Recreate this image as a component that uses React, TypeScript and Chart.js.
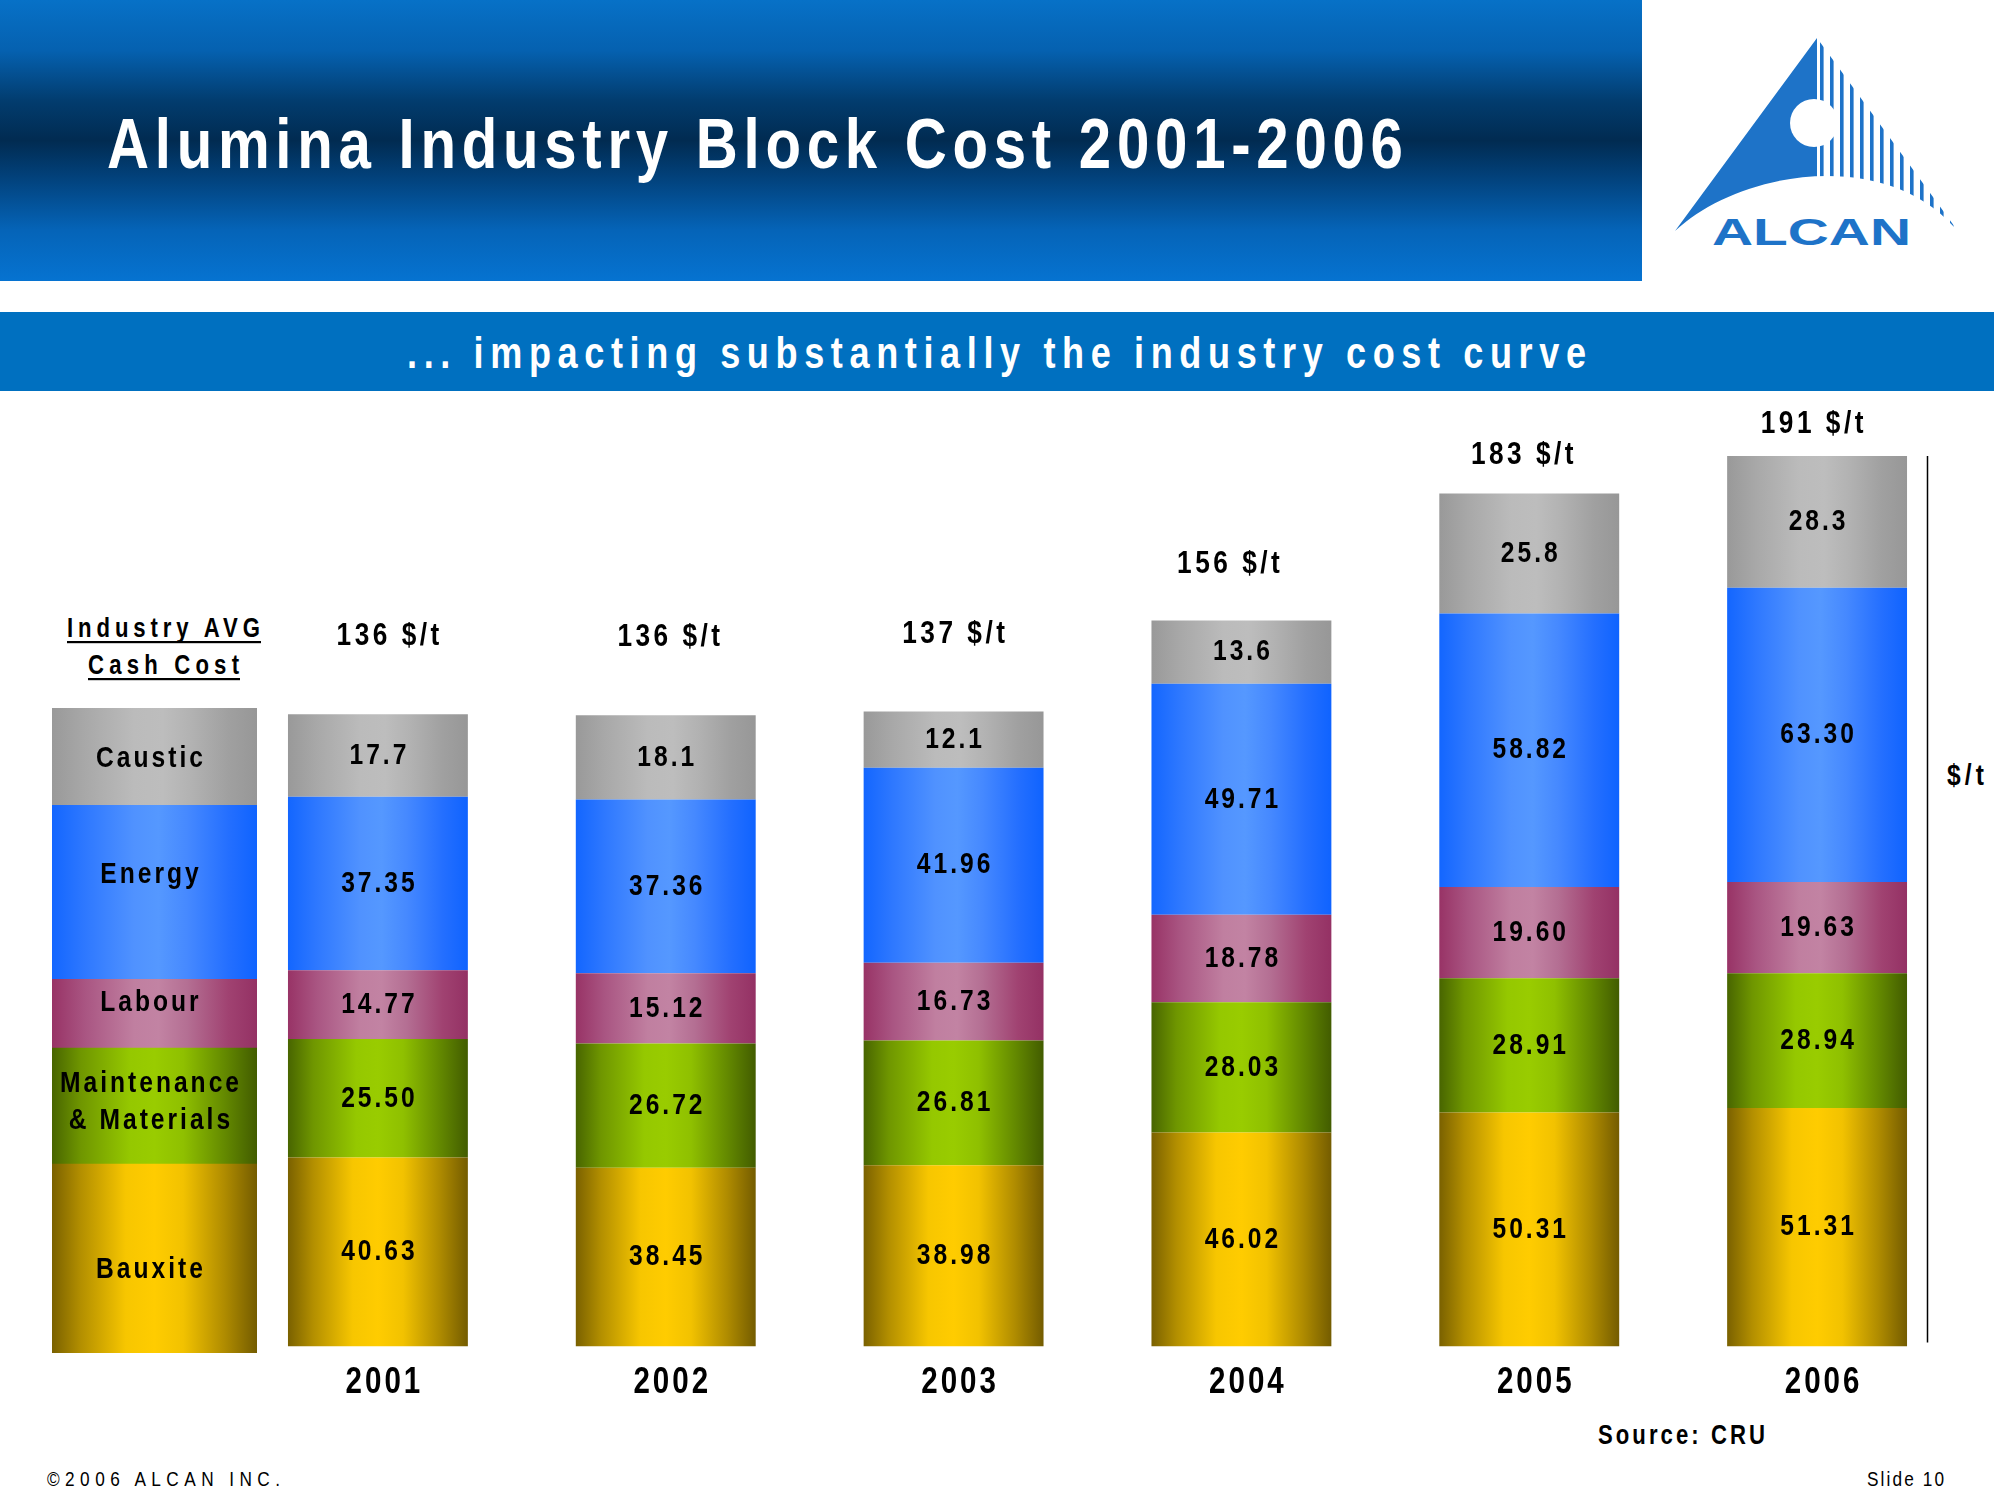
import React, { useEffect, useRef } from 'react';
import { Chart, registerables } from 'chart.js';

Chart.register(...registerables);

// ---------------- data ----------------
const YEARS = ['2001', '2002', '2003', '2004', '2005', '2006'];
const SERIES_NAMES = ['Bauxite', 'Maintenance & Materials', 'Labour', 'Energy', 'Caustic'];
const BAUXITE = [40.63, 38.45, 38.98, 46.02, 50.31, 51.31];
const MAINTENANCE = [25.5, 26.72, 26.81, 28.03, 28.91, 28.94];
const LABOUR = [14.77, 15.12, 16.73, 18.78, 19.6, 19.63];
const ENERGY = [37.35, 37.36, 41.96, 49.71, 58.82, 63.3];
const CAUSTIC = [17.7, 18.1, 12.1, 13.6, 25.8, 28.3];
const SERIES_DECIMALS = [2, 2, 2, 2, 1];
const UNIT = '$/t';

// Legend block ("Industry AVG Cash Cost"), bottom to top
const LEGEND_LABELS = ['Bauxite', 'Maintenance\n& Materials', 'Labour', 'Energy', 'Caustic'];
const LEGEND_BLOCK = [40.6, 24.9, 14.8, 37.4, 20.9];

// ---------------- styles ----------------
const SANS = '"Liberation Sans", Arial, sans-serif';
const SQ = 0.82; // horizontal squeeze to mimic a narrow face
const BAR_PCT = 0.625;
const TOTAL_LABEL_GAP = [69, 69, 68, 47, 30, 23];
const TOTAL_LABEL_DX = [10, 3, 0, -13, -7, -5];
const LEGEND_LABEL_SHIFT = [11, -4, -11, -18, 2];
const YEAR_BASELINE_BELOW_AXIS = 46.5;

type Stops = [number, string][];
const GRADS: Stops[] = [
  // Bauxite
  [[0, '#7a6100'], [0.14, '#b38f00'], [0.36, '#f7c600'], [0.5, '#ffcc00'], [0.64, '#f2c200'], [0.84, '#b08c00'], [1, '#745c00']],
  // Maintenance
  [[0, '#486500'], [0.14, '#6f9600'], [0.38, '#95c800'], [0.5, '#99cc00'], [0.64, '#8fc000'], [0.84, '#648a00'], [1, '#425c00']],
  // Labour
  [[0, '#983366'], [0.16, '#a95582'], [0.4, '#c07fa0'], [0.52, '#c283a3'], [0.66, '#b46f93'], [0.86, '#a04271'], [1, '#943164']],
  // Energy
  [[0, '#1366ff'], [0.16, '#2e78ff'], [0.4, '#5092ff'], [0.52, '#5598ff'], [0.66, '#4689ff'], [0.86, '#246fff'], [1, '#0f63ff']],
  // Caustic
  [[0, '#999999'], [0.16, '#a8a8a8'], [0.4, '#bbbbbb'], [0.54, '#bdbdbd'], [0.68, '#b2b2b2'], [0.86, '#a0a0a0'], [1, '#979797']],
];

function makeGrad(ctx: CanvasRenderingContext2D, x0: number, x1: number, stops: Stops) {
  const g = ctx.createLinearGradient(x0, 0, x1, 0);
  stops.forEach(([o, c]) => g.addColorStop(o, c));
  return g;
}

function narrowText(ctx: CanvasRenderingContext2D, txt: string, cx: number, y: number, spacing: number) {
  ctx.save();
  ctx.translate(cx, y);
  ctx.scale(SQ, 1);
  const sl = spacing / SQ;
  (ctx as any).letterSpacing = `${sl}px`;
  ctx.textAlign = 'center';
  ctx.fillText(txt, sl / 2, 0);
  ctx.restore();
}

const SERIES = [BAUXITE, MAINTENANCE, LABOUR, ENERGY, CAUSTIC];

const mainLabelsPlugin = {
  id: 'mainLabels',
  afterDatasetsDraw(chart: any) {
    const ctx = chart.ctx as CanvasRenderingContext2D;
    const ys = chart.scales.y;
    const xs = chart.scales.x;
    ctx.save();
    ctx.fillStyle = '#000';
    // segment values
    ctx.font = `bold 30px ${SANS}`;
    ctx.textBaseline = 'middle';
    chart.data.datasets.forEach((ds: any, di: number) => {
      const meta = chart.getDatasetMeta(di);
      meta.data.forEach((bar: any, i: number) => {
        const p = bar.getProps(['x', 'y', 'base'], true);
        const v = ds.data[i] as number;
        narrowText(ctx, v.toFixed(SERIES_DECIMALS[di]), p.x, (p.y + p.base) / 2, 3);
      });
    });
    // totals
    ctx.font = `bold 32px ${SANS}`;
    ctx.textBaseline = 'alphabetic';
    const meta0 = chart.getDatasetMeta(0);
    const totals = YEARS.map((_, i) => SERIES.reduce((s, arr) => s + arr[i], 0));
    totals.forEach((total, i) => {
      const top = ys.getPixelForValue(total);
      const x = meta0.data[i].getProps(['x'], true).x;
      narrowText(ctx, `${Math.round(total)} ${UNIT}`, x + TOTAL_LABEL_DX[i], top - TOTAL_LABEL_GAP[i], 3.5);
    });
    // category (year) labels
    ctx.font = `bold 36px ${SANS}`;
    const y0 = ys.getPixelForValue(0);
    chart.data.labels.forEach((lab: string, i: number) => {
      narrowText(ctx, lab, xs.getPixelForValue(i) + 5, y0 + YEAR_BASELINE_BELOW_AXIS, 3);
    });
    // right value axis line
    const maxTotal = Math.max(...totals);
    const last = meta0.data[YEARS.length - 1].getProps(['x', 'width'], true);
    const lx = Math.round(last.x + last.width / 2 + 20) + 0.5;
    ctx.strokeStyle = '#000';
    ctx.lineWidth = 1.5;
    ctx.beginPath();
    ctx.moveTo(lx, ys.getPixelForValue(maxTotal));
    ctx.lineTo(lx, y0 - 4);
    ctx.stroke();
    ctx.restore();
  },
};

const legendLabelsPlugin = {
  id: 'legendLabels',
  afterDatasetsDraw(chart: any) {
    const ctx = chart.ctx as CanvasRenderingContext2D;
    ctx.save();
    ctx.fillStyle = '#000';
    ctx.textBaseline = 'middle';
    ctx.font = `bold 30px ${SANS}`;
    chart.data.datasets.forEach((ds: any, di: number) => {
      const bar = chart.getDatasetMeta(di).data[0];
      const p = bar.getProps(['x', 'y', 'base'], true);
      const lines = String(ds.label).split('\n');
      const lh = 37;
      const cy = (p.y + p.base) / 2 + LEGEND_LABEL_SHIFT[di];
      lines.forEach((ln, li) => {
        narrowText(ctx, ln, p.x - 5, cy + (li - (lines.length - 1) / 2) * lh, 3);
      });
    });
    ctx.restore();
  },
};

function NText(props: {
  x: number;
  y: number;
  w: number;
  size: number;
  bold?: boolean;
  fill?: string;
  children: React.ReactNode;
}) {
  const { x, y, w, size, bold = true, fill = '#000', children } = props;
  return (
    <g transform={`translate(${x} ${y}) scale(${SQ} 1)`}>
      <text
        x={0}
        y={0}
        fill={fill}
        fontFamily={SANS}
        fontWeight={bold ? 'bold' : 'normal'}
        fontSize={size}
        textLength={w / SQ}
        lengthAdjust="spacing"
      >
        {children}
      </text>
    </g>
  );
}

export default function App() {
  const mainRef = useRef<HTMLCanvasElement>(null);
  const legRef = useRef<HTMLCanvasElement>(null);

  useEffect(() => {
    const main = new Chart(mainRef.current as HTMLCanvasElement, {
      type: 'bar',
      data: {
        labels: YEARS,
        datasets: SERIES.map((arr, k) => ({
          label: SERIES_NAMES[k],
          data: arr,
          borderWidth: 0,
          categoryPercentage: 1,
          barPercentage: BAR_PCT,
          backgroundColor: (c: any) => {
            const ch = c.chart;
            const xs = ch.scales && ch.scales.x;
            if (!xs || c.dataIndex === undefined || !ch.chartArea) return GRADS[k][3][1];
            const cx = xs.getPixelForValue(c.dataIndex);
            const half = ((xs.width / YEARS.length) * BAR_PCT) / 2;
            return makeGrad(ch.ctx, cx - half, cx + half, GRADS[k]);
          },
        })),
      },
      options: {
        responsive: true,
        maintainAspectRatio: false,
        animation: false,
        layout: { padding: { left: 234, right: 33, top: 16.5, bottom: 147.5 } },
        plugins: { legend: { display: false }, tooltip: { enabled: false } },
        scales: {
          x: { stacked: true, display: false },
          y: { stacked: true, display: false, min: 0, max: 200 },
        },
      } as any,
      plugins: [mainLabelsPlugin],
    });

    const legendTotal = LEGEND_BLOCK.reduce((a, b) => a + b, 0);
    const leg = new Chart(legRef.current as HTMLCanvasElement, {
      type: 'bar',
      data: {
        labels: [''],
        datasets: LEGEND_BLOCK.map((v, k) => ({
          label: LEGEND_LABELS[k],
          data: [v],
          borderWidth: 0,
          categoryPercentage: 1,
          barPercentage: 1,
          backgroundColor: (c: any) => {
            const ch = c.chart;
            const xs = ch.scales && ch.scales.x;
            if (!xs || c.dataIndex === undefined || !ch.chartArea) return GRADS[k][3][1];
            const cx = xs.getPixelForValue(0);
            const half = xs.width / 2;
            return makeGrad(ch.ctx, cx - half, cx + half, GRADS[k]);
          },
        })),
      },
      options: {
        responsive: true,
        maintainAspectRatio: false,
        animation: false,
        layout: { padding: 0 },
        plugins: { legend: { display: false }, tooltip: { enabled: false } },
        scales: {
          x: { stacked: true, display: false },
          y: { stacked: true, display: false, min: 0, max: legendTotal },
        },
      } as any,
      plugins: [legendLabelsPlugin],
    });

    return () => {
      main.destroy();
      leg.destroy();
    };
  }, []);

  const stripes = Array.from({ length: 14 }, (_, i) => 1820 + i * 10);
  const logoBlue = '#1e73c8';

  return (
    <div
      style={{
        position: 'absolute',
        left: 0,
        top: 0,
        width: 1994,
        height: 1494,
        background: '#ffffff',
        overflow: 'hidden',
      }}
    >
      <svg
        width={1994}
        height={1494}
        style={{ position: 'absolute', left: 0, top: 0 }}
        xmlns="http://www.w3.org/2000/svg"
      >
        <defs>
          <linearGradient id="hdr" x1="0" y1="0" x2="0" y2="1">
            <stop offset="0" stopColor="#0771c7" />
            <stop offset="0.18" stopColor="#0561b0" />
            <stop offset="0.36" stopColor="#023c6e" />
            <stop offset="0.5" stopColor="#012b51" />
            <stop offset="0.64" stopColor="#02437e" />
            <stop offset="0.82" stopColor="#0564b8" />
            <stop offset="1" stopColor="#0673d1" />
          </linearGradient>
          <clipPath id="tri">
            <path d="M1817 38 L1960 234 C1890 145 1740 170 1675 231 Z" />
          </clipPath>
        </defs>
        {/* header band */}
        <rect x={0} y={0} width={1642} height={281} fill="url(#hdr)" />
        <NText x={107} y={168} w={1296} size={71} fill="#ffffff">
          Alumina Industry Block Cost 2001-2006
        </NText>
        {/* subtitle band */}
        <rect x={0} y={312} width={1994} height={79} fill="#0070c0" />
        <NText x={407} y={368} w={1179} size={44} fill="#ffffff">
          ... impacting substantially the industry cost curve
        </NText>
        {/* logo */}
        <g clipPath="url(#tri)" fill={logoBlue}>
          <rect x={1660} y={30} width={157} height={220} />
          {stripes.map((x) => (
            <rect key={x} x={x} y={30} width={3.6} height={220} />
          ))}
        </g>
        <circle cx={1814} cy={123} r={24} fill="#ffffff" />
        <text
          x={1712}
          y={245}
          fill={logoBlue}
          fontFamily={SANS}
          fontWeight="bold"
          fontSize={37}
          textLength={199}
          lengthAdjust="spacingAndGlyphs"
        >
          ALCAN
        </text>
        {/* legend header */}
        <NText x={67} y={637} w={193} size={27}>
          Industry AVG
        </NText>
        <rect x={67} y={641} width={194} height={2.2} fill="#000" />
        <NText x={88} y={674} w={151} size={27}>
          Cash Cost
        </NText>
        <rect x={88} y={678} width={152} height={2.2} fill="#000" />
        {/* unit label at right axis */}
        <NText x={1947} y={785} w={37} size={30}>
          {UNIT}
        </NText>
        {/* source + footer */}
        <NText x={1598} y={1444} w={167} size={27}>
          Source: CRU
        </NText>
        <NText x={47} y={1486} w={233} size={21} bold={false}>
          ©2006 ALCAN INC.
        </NText>
        <NText x={1867} y={1486} w={77} size={21} bold={false}>
          Slide 10
        </NText>
      </svg>
      <div style={{ position: 'absolute', left: 0, top: 400, width: 1994, height: 1094 }}>
        <canvas ref={mainRef} />
      </div>
      <div style={{ position: 'absolute', left: 52, top: 708, width: 205, height: 645 }}>
        <canvas ref={legRef} />
      </div>
    </div>
  );
}
